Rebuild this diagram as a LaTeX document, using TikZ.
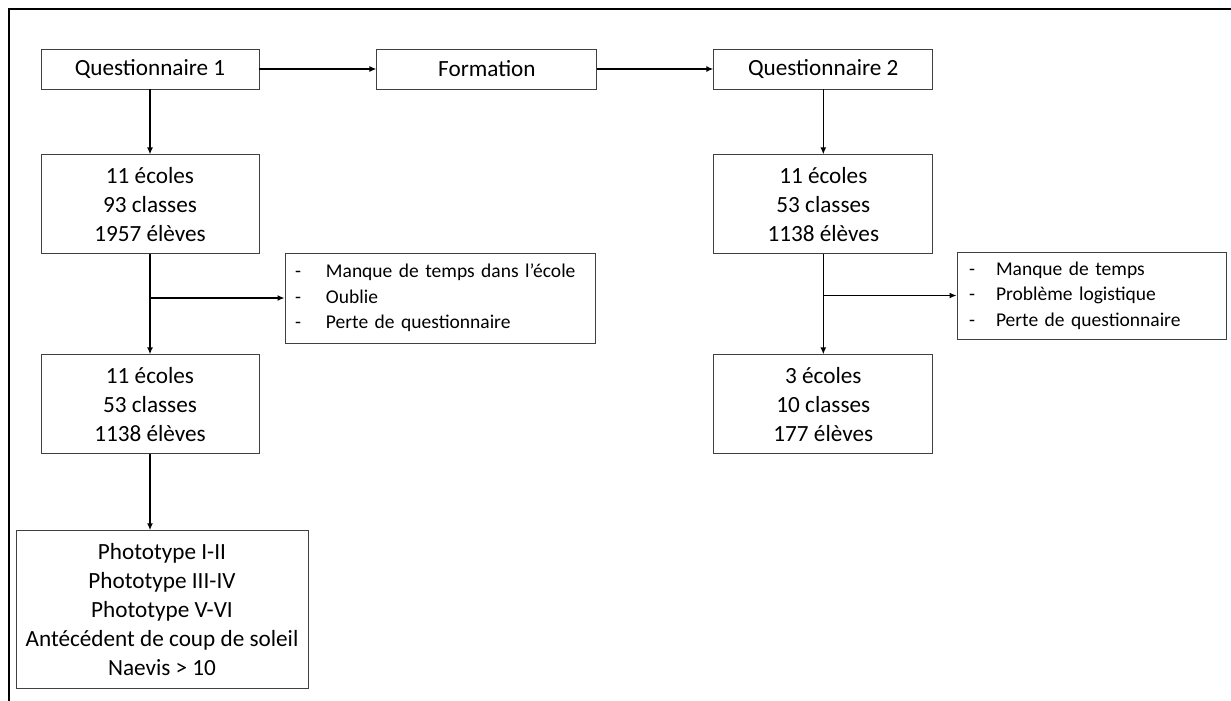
\documentclass[tikz,border=0pt]{standalone}
\usepackage{fontspec}
\setmainfont{Carlito}
\usetikzlibrary{arrows.meta,positioning}

\begin{document}
\begin{tikzpicture}[x=1pt,y=-1pt]
\tikzstyle{box}=[rectangle,draw=black!75,line width=0.9pt,align=center,inner sep=0pt,font=\fontsize{23.2}{29}\selectfont]
\tikzstyle{stage}=[box,minimum width=218pt,minimum height=40pt]
\tikzstyle{count}=[box,minimum width=218pt,minimum height=99pt]
\tikzstyle{reason}=[box,align=left,font=\fontsize{19.5}{25.5}\selectfont]
\tikzstyle{flow}=[line width=1.5pt,-{Latex[length=7pt,width=6pt]}]

\useasboundingbox (0,0) rectangle (1231,701);
\draw[line width=2pt] (9,701) -- (9,9) -- (1231,9);

\node[stage] (q1) at (150,69) {Questionnaire 1};
\node[stage,minimum width=220pt,right=117pt of q1] (form) {Formation};
\node[stage,minimum width=219pt,right=116pt of form] (q2) {Questionnaire 2};

\node[count,below=65pt of q1] (a) {11 écoles\\93 classes\\1957 élèves};
\node[count,below=100pt of a] (b) {11 écoles\\53 classes\\1138 élèves};
\node[box,minimum width=292pt,minimum height=158pt,below=76pt of b,xshift=12pt] (c)
  {Phototype I-II\\Phototype III-IV\\Phototype V-VI\\Antécédent de coup de soleil\\Naevis > 10};

\node[count,minimum width=219pt,below=65pt of q2] (d) {11 écoles\\53 classes\\1138 élèves};
\node[count,minimum width=219pt,below=100pt of d] (e) {3 écoles\\10 classes\\177 élèves};

\node[reason,inner xsep=10pt,text width=290pt,minimum height=90pt] (r1) at (440,298)
  {\mbox{\makebox[31pt][l]{-}Manque de temps dans l’école}\\
   \mbox{\makebox[31pt][l]{-}Oublie}\\
   \mbox{\makebox[31pt][l]{-}Perte de questionnaire}};
\node[reason,inner xsep=12pt,text width=245pt,minimum height=87pt] (r2) at (1091.5,295.5)
  {\mbox{\makebox[27pt][l]{-}Manque de temps}\\
   \mbox{\makebox[27pt][l]{-}Problème logistique}\\
   \mbox{\makebox[27pt][l]{-}Perte de questionnaire}};

\draw[flow] (q1) -- (form);
\draw[flow] (form) -- (q2);
\draw[flow] (q1) -- (a);
\draw[flow] (a) -- (b);
\draw[flow] (b.south) -- (b.south |- c.north);
\draw[flow] (a.south |- r1.west) -- (r1.west);
\draw[flow] (q2) -- (d);
\draw[flow] (d) -- (e);
\draw[flow] (d.south |- r2.west) -- (r2.west);
\end{tikzpicture}
\end{document}
